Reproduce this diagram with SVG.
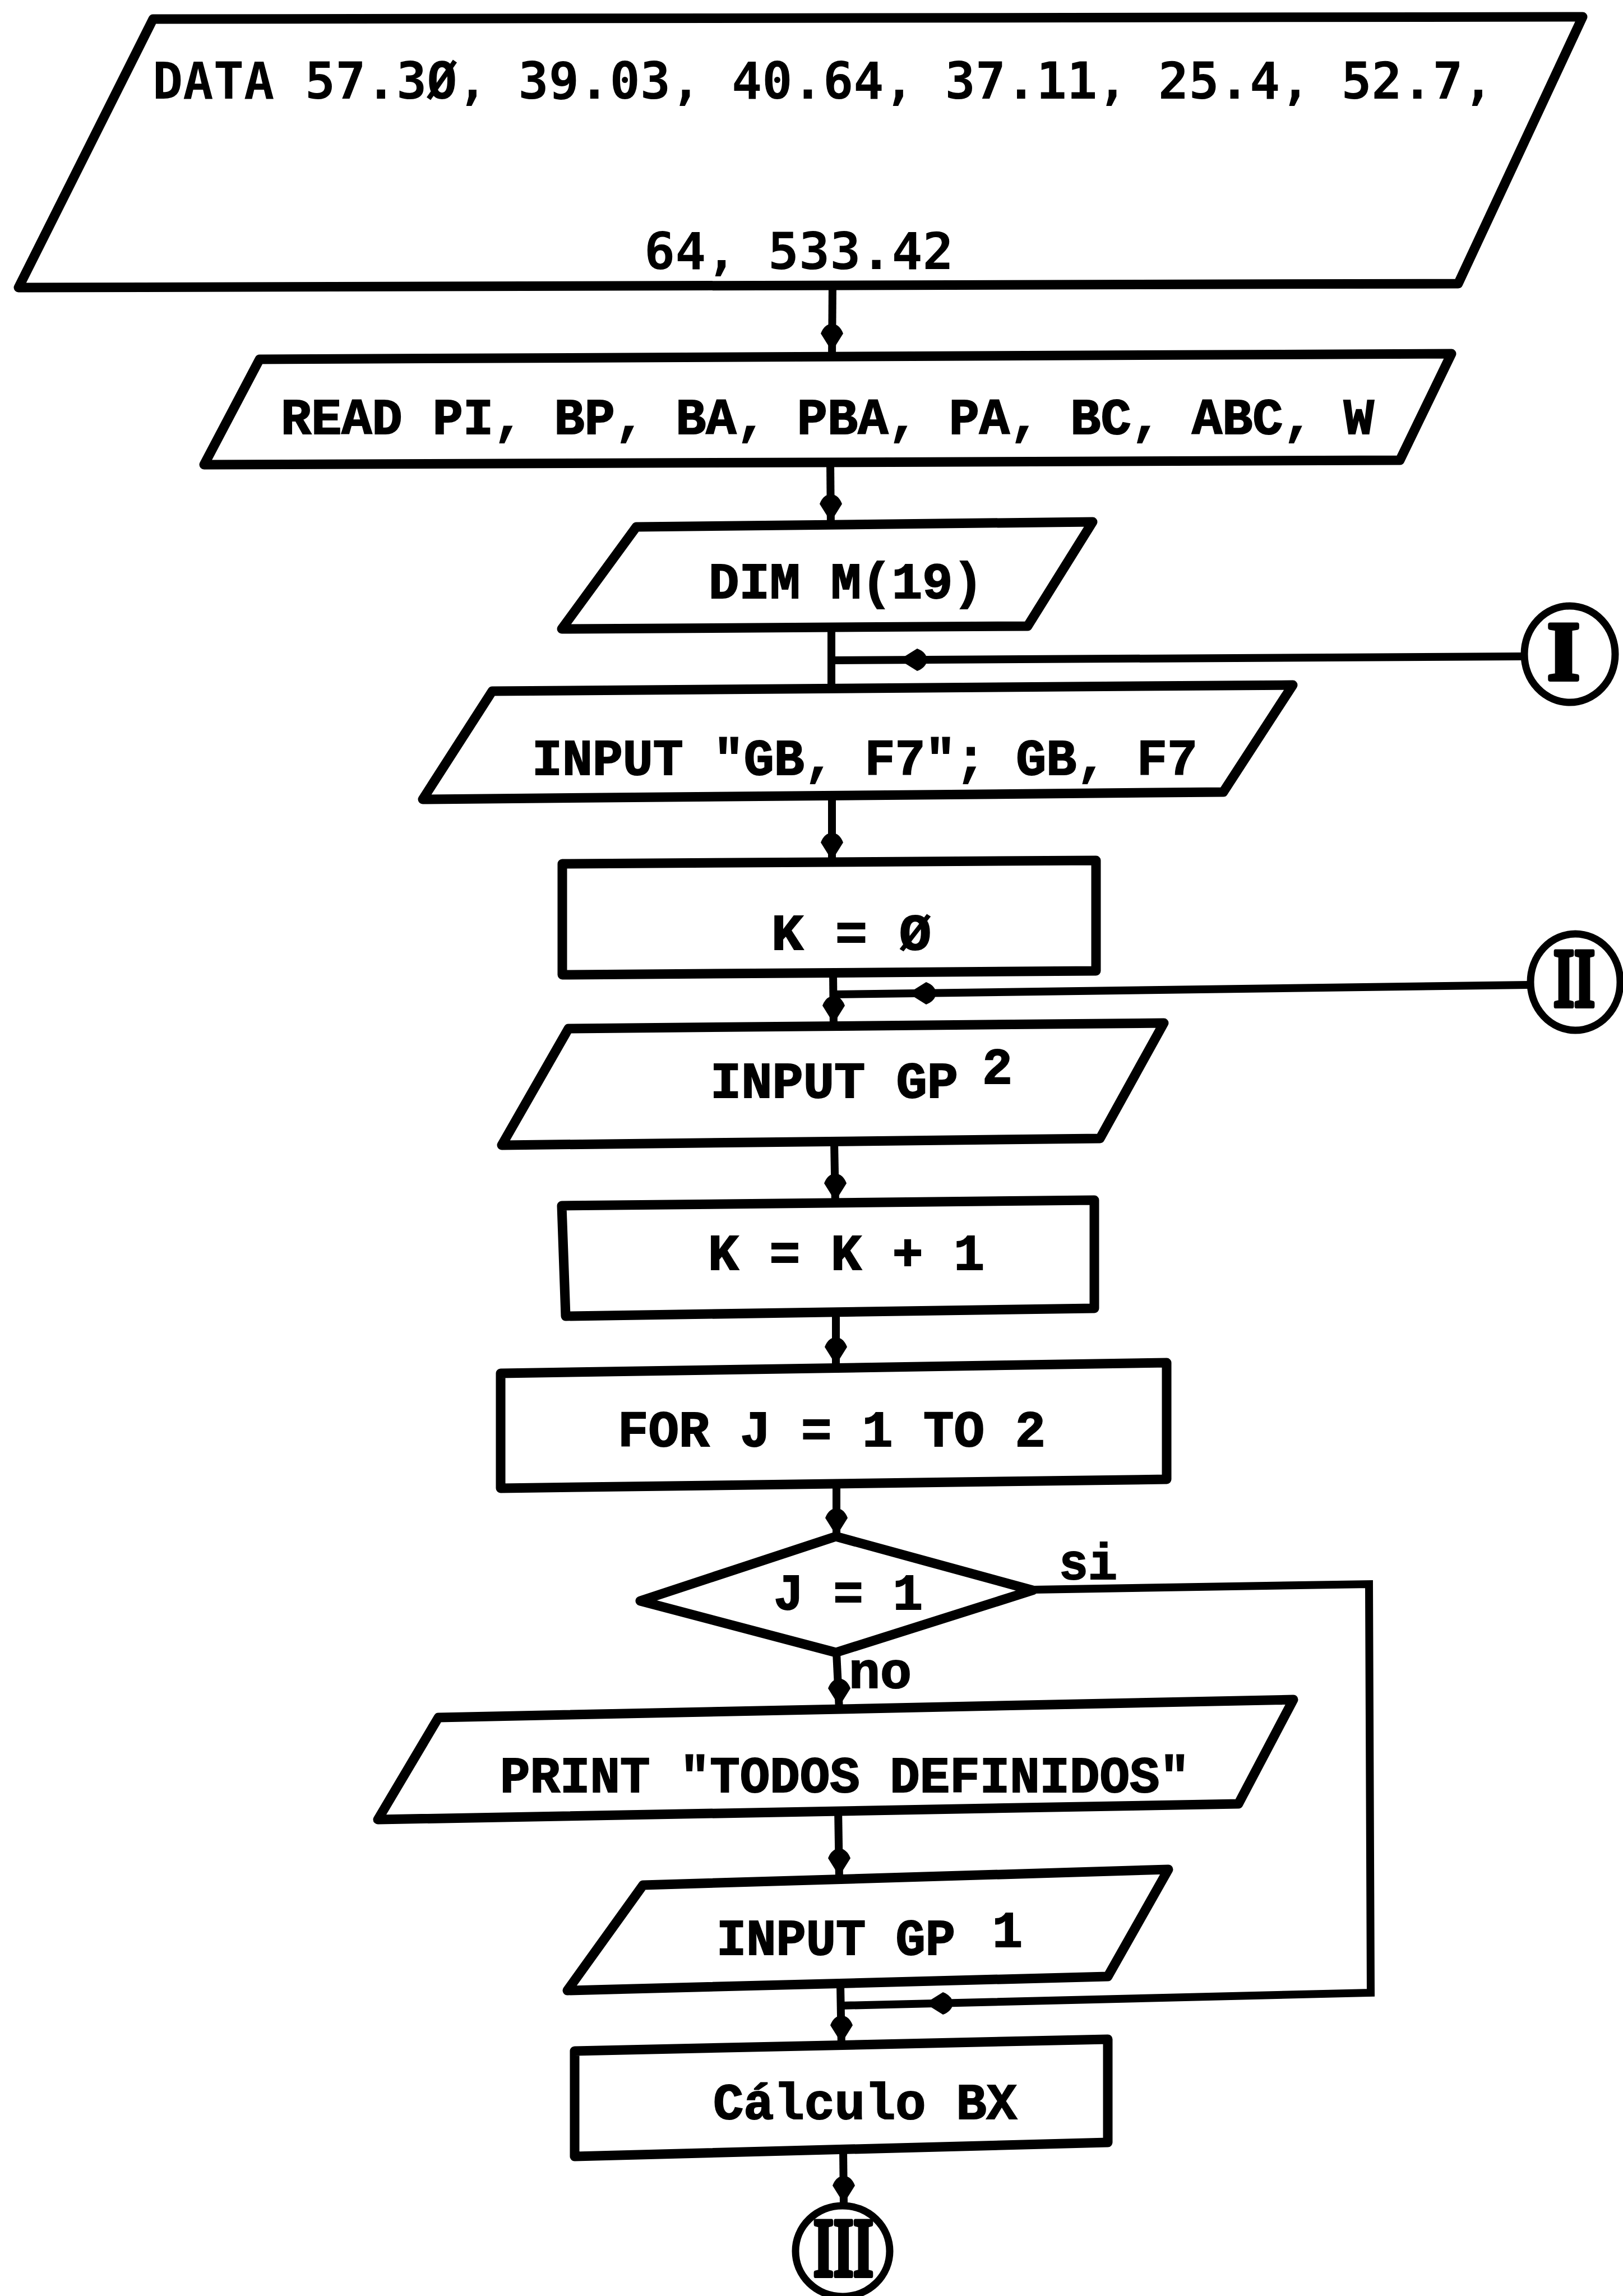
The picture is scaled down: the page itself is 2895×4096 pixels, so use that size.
<svg xmlns="http://www.w3.org/2000/svg" xmlns:xlink="http://www.w3.org/1999/xlink" width="2895" height="4096" viewBox="0 0 2895 4096">
<style>
.box{fill:#fff;stroke:#000;stroke-width:17;stroke-linejoin:round}
.circ{fill:#fff;stroke:#000;stroke-width:13}
.t{font-family:"Liberation Mono","Courier New",monospace;font-weight:bold;font-size:90px;fill:#000;stroke:#000;stroke-width:2}
.d{font-family:"DejaVu Sans Mono","Liberation Mono",monospace;font-weight:bold;font-size:90px;fill:#000}
.r{font-family:"Liberation Serif","Times New Roman",serif;font-weight:bold;font-size:148px;fill:#000;stroke:#000;stroke-width:8;stroke-linejoin:round}
.c{fill:none;stroke:#000;stroke-width:14;stroke-linejoin:miter}
</style>
<defs>
<path id="ah" d="M0,0 L-20,-32 Q-14,-48 0,-50 Q14,-48 20,-32 Z" fill="#000"/>
</defs>
<rect width="2895" height="4096" fill="#fff"/>

<g id="connectors">
<path class="c" d="M1485,506 L1484,640"/>
<path class="c" d="M1481,825 L1482,940"/>
<path class="c" d="M1483,1120 L1483,1232"/>
<path class="c" d="M2713,1171 L1483,1178"/>
<path class="c" d="M1484,1420 L1484,1542"/>
<path class="c" d="M1486,1736 L1487,1836"/>
<path class="c" d="M2727,1757 L1486,1774"/>
<path class="c" d="M1488,2037 L1490,2148"/>
<path class="c" d="M1491,2341 L1491,2445"/>
<path class="c" d="M1492,2647 L1492,2741"/>
<path class="c" d="M1492,2948 L1497,3050"/>
<path class="c" d="M1842,2836 L2442,2826 L2445,3555 L1500,3578"/>
<path class="c" d="M1495,3226 L1497,3352"/>
<path class="c" d="M1499,3540 L1501,3652"/>
<path class="c" d="M1504,3835 L1505,3932"/>
<use xlink:href="#ah" transform="translate(1484,627)"/>
<use xlink:href="#ah" transform="translate(1482,931)"/>
<use xlink:href="#ah" transform="translate(1604,1177) rotate(90)"/>
<use xlink:href="#ah" transform="translate(1484,1535)"/>
<use xlink:href="#ah" transform="translate(1487,1826)"/>
<use xlink:href="#ah" transform="translate(1620,1772) rotate(90)"/>
<use xlink:href="#ah" transform="translate(1490,2143)"/>
<use xlink:href="#ah" transform="translate(1491,2435)"/>
<use xlink:href="#ah" transform="translate(1492,2740)"/>
<use xlink:href="#ah" transform="translate(1497,3044)"/>
<use xlink:href="#ah" transform="translate(1497,3347)"/>
<use xlink:href="#ah" transform="translate(1501,3645)"/>
<use xlink:href="#ah" transform="translate(1505,3931)"/>
<use xlink:href="#ah" transform="translate(1650,3574) rotate(90)"/>
<text class="t" x="1889" y="2817" textLength="104" lengthAdjust="spacingAndGlyphs">si</text>
<text class="t" x="1514" y="3011" textLength="112" lengthAdjust="spacingAndGlyphs">no</text>
</g>

<g id="data">
<polygon class="box" points="273,34 2823,30 2601,506 33,513"/>
<text class="d" x="272" y="176" textLength="2392" lengthAdjust="spacingAndGlyphs">DATA 57.3Ø, 39.03, 40.64, 37.11, 25.4, 52.7,</text>
<text class="d" x="1149" y="480" textLength="552" lengthAdjust="spacingAndGlyphs">64, 533.42</text>
</g>

<g id="read">
<polygon class="box" points="463,641 2589,631 2497,821 364,829"/>
<text class="t" x="501" y="774" textLength="1950" lengthAdjust="spacingAndGlyphs">READ PI, BP, BA, PBA, PA, BC, ABC, W</text>
</g>

<g id="dim">
<polygon class="box" points="1135,940 1949,931 1833,1117 1002,1122"/>
<text class="t" x="1264" y="1067" textLength="490" lengthAdjust="spacingAndGlyphs">DIM M(19)</text>
</g>

<g id="conn-I">
<ellipse class="circ" cx="2800" cy="1167" rx="81" ry="86"/>
<text class="r" x="2789" y="1212" text-anchor="middle">I</text>
</g>

<g id="input-gb">
<polygon class="box" points="878,1233 2306,1222 2182,1413 754,1426"/>
<text class="t" x="949" y="1382" textLength="1187" lengthAdjust="spacingAndGlyphs">INPUT "GB, F7"; GB, F7</text>
</g>

<g id="k0">
<polygon class="box" points="1003,1541 1955,1535 1955,1732 1003,1739"/>
<text class="t" x="1376" y="1694" textLength="285" lengthAdjust="spacingAndGlyphs">K = Ø</text>
</g>

<g id="conn-II">
<ellipse class="circ" cx="2810" cy="1752" rx="80" ry="86"/>
<text class="r" x="2771" y="1795" textLength="74" lengthAdjust="spacingAndGlyphs">II</text>
</g>

<g id="input-gp2">
<polygon class="box" points="1014,1835 2076,1825 1962,2031 895,2043"/>
<text class="t" x="1267" y="1958" textLength="442" lengthAdjust="spacingAndGlyphs">INPUT GP</text>
<text class="t" x="1752" y="1933" font-size="84">2</text>
</g>

<g id="k-inc">
<polygon class="box" points="1002,2151 1952,2141 1952,2334 1009,2348"/>
<text class="t" x="1263" y="2265" textLength="493" lengthAdjust="spacingAndGlyphs">K = K + 1</text>
</g>

<g id="for">
<polygon class="box" points="893,2450 2081,2431 2081,2639 893,2655"/>
<text class="t" x="1102" y="2580" textLength="763" lengthAdjust="spacingAndGlyphs">FOR J = 1 TO 2</text>
</g>

<g id="decision">
<polygon class="box" points="1491,2741 1842,2837 1491,2948 1142,2856"/>
<text class="t" x="1380" y="2871" textLength="266" lengthAdjust="spacingAndGlyphs">J = 1</text>
</g>

<g id="print">
<polygon class="box" points="782,3064 2307,3032 2209,3218 674,3246"/>
<text class="t" x="892" y="3197" textLength="1230" lengthAdjust="spacingAndGlyphs">PRINT "TODOS DEFINIDOS"</text>
</g>

<g id="input-gp1">
<polygon class="box" points="1147,3363 2084,3335 1976,3526 1012,3551"/>
<text class="t" x="1278" y="3487" textLength="426" lengthAdjust="spacingAndGlyphs">INPUT GP</text>
<text class="t" x="1770" y="3473" font-size="70">1</text>
</g>

<g id="calculo">
<polygon class="box" points="1025,3659 1976,3638 1976,3822 1025,3847"/>
<text class="t" x="1272" y="3780" textLength="542" lengthAdjust="spacingAndGlyphs">Cálculo BX</text>
</g>

<g id="conn-III">
<ellipse class="circ" cx="1503" cy="4016" rx="84" ry="81"/>
<text class="r" x="1451" y="4060" textLength="107" lengthAdjust="spacingAndGlyphs">III</text>
</g>
</svg>
